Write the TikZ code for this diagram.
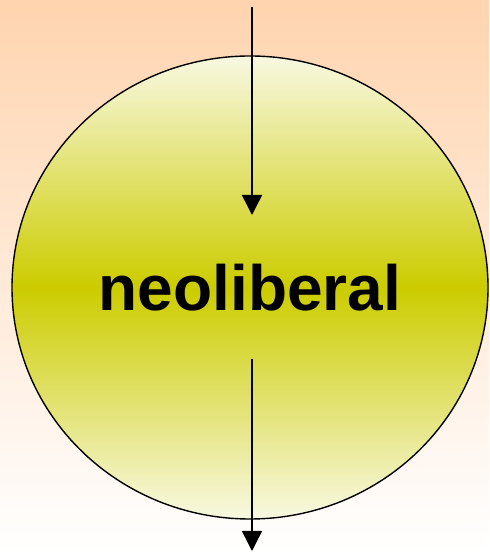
\documentclass[tikz,border=0pt]{standalone}
\usepackage{fontspec}
\setmainfont{Liberation Sans}
\usetikzlibrary{shapes.geometric, arrows.meta, positioning}
\usepackage{xcolor}
\definecolor{peach}{RGB}{255,212,175}
\definecolor{neoyellow}{RGB}{204,204,0}
\definecolor{paleyellow}{RGB}{248,248,226}

\begin{document}
\begin{tikzpicture}[x=1pt, y=1pt,
            policy/.style={ellipse, draw, line width=1.4pt, top color=paleyellow, bottom color=paleyellow, middle color=neoyellow, minimum width=476pt, minimum height=463pt, inner sep=0pt, font=\fontsize{64}{70}\selectfont\bfseries},
            flow/.style={-{Triangle[length=20pt, width=20pt]}, line width=1.5pt}]

        % Background
        \shade[top color=peach, bottom color=white] (0,0) rectangle (489,553);
        \useasboundingbox (0,0) rectangle (489,553);

        \node [policy] (neo) at (250,265.5) {\raisebox{-2pt}{neoliberal}};
        \coordinate (inflow) at (252,546);
        \coordinate (inend) at (252,338);
        \coordinate (outstart) at (252,194);
        \coordinate (outflow) at (252,2);

        % Flow into the circle
        \draw[flow] (inflow) -- (inend);

        % Flow out of the circle
        \draw[flow] (outstart) -- (outflow);

    \end{tikzpicture}
\end{document}
